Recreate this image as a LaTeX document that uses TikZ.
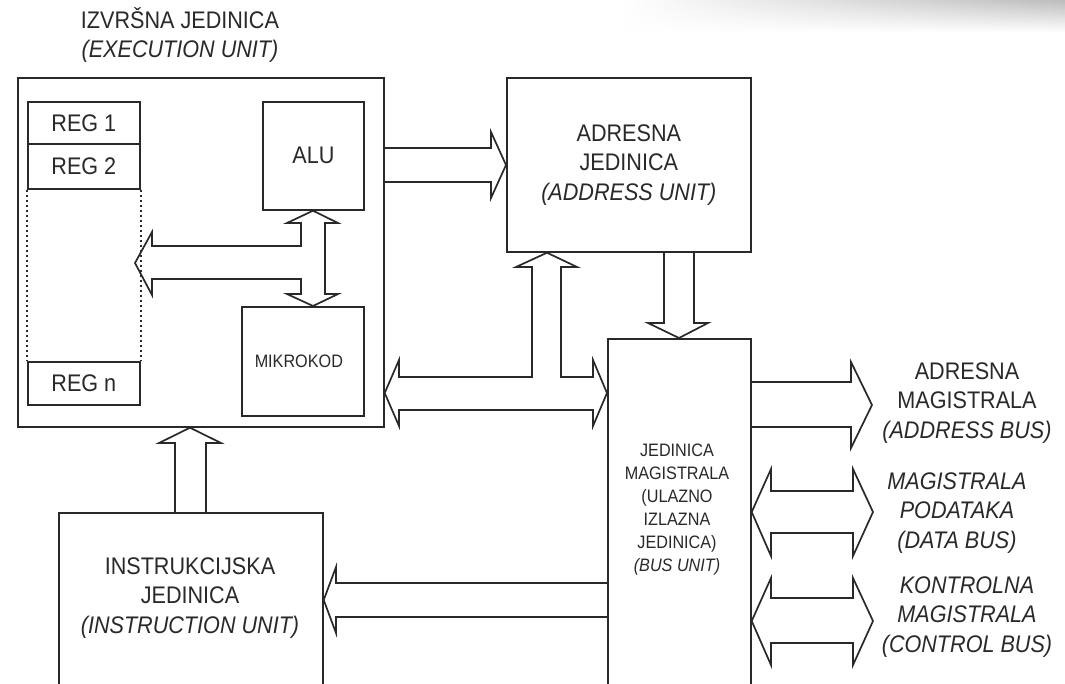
\documentclass[tikz,border=0pt]{standalone}
\usepackage{fontspec}
\setmainfont[FakeStretch=0.9]{Liberation Sans}
\usetikzlibrary{calc,fadings}
\definecolor{ink}{gray}{0.16}
\begin{document}
\begin{tikzpicture}[x=1pt,y=-1pt,
  unit/.style={draw=ink, line width=1.7pt, rectangle, inner sep=0pt, anchor=north west,
    font=\fontsize{24}{29.5}\selectfont, text=ink, align=center},
  blk/.style={draw=ink, line width=1.7pt, line join=miter},
  dots/.style={draw=ink, line width=1.8pt, dash pattern=on 1.8pt off 3.2pt},
  lab/.style={align=center, font=\fontsize{24}{29.5}\selectfont, text=ink, inner sep=0pt},
  ilab/.style={lab, font=\fontsize{24}{29.5}\selectfont\itshape},
  smalllab/.style={align=center, font=\fontsize{18}{23}\selectfont, text=ink, inner sep=0pt}
]
\useasboundingbox (0,0) rectangle (1065,683);
\fill[white] (0,0) rectangle (1065,683);
\clip (0,0) rectangle (1065,683);

% soft grey band along the top right edge
\shade[left color=white, right color=black!26, path fading=south] (620,0) rectangle (1065,32);

% execution unit and its parts
\node[unit, minimum width=366pt, minimum height=349pt] (exec) at (17,77) {};
\node[lab] (exectitle) at (180,35) {IZVRŠNA JEDINICA\\\textit{(EXECUTION UNIT)}};
\node[unit, minimum width=112pt, minimum height=42pt] (reg1) at (27,101) {REG 1};
\node[unit, minimum width=112pt, minimum height=45pt] (reg2) at (27,143) {REG 2};
\node[unit, minimum width=112pt, minimum height=43pt] (regn) at (27,361) {REG n};
\draw[dots] (reg2.south west) -- (regn.north west);
\draw[dots] (reg2.south east) -- (regn.north east);
\node[unit, minimum width=101pt, minimum height=108pt] (alu) at (262,101) {ALU};
\node[unit, minimum width=122pt, minimum height=109pt, font=\fontsize{18}{21}\selectfont] (mikro) at (241,306) {MIKROKOD\hspace*{8pt}};

% address unit
\node[unit, minimum width=244pt, minimum height=174pt] (addr) at (506,77)
  {ADRESNA\\JEDINICA\\\textit{(ADDRESS UNIT)}};

% bus unit
\node[unit, minimum width=143pt, minimum height=362pt] (bus) at (607,338) {};
\node[smalllab] (bustext) at (677,510)
  {JEDINICA\\MAGISTRALA\\(ULAZNO\\IZLAZNA\\JEDINICA)\\\textit{(BUS UNIT)}};

% instruction unit
\node[unit, minimum width=264pt, minimum height=188pt] (instr) at (58,512) {};
\node[lab] (instrtext) at (190,598) {INSTRUKCIJSKA\\JEDINICA\\\textit{(INSTRUCTION UNIT)}};

% external buses
\node[lab] (abus) at (967,403) {ADRESNA\\MAGISTRALA\\\textit{(ADDRESS BUS)}};
\node[ilab] (dbus) at (957,513) {MAGISTRALA\\PODATAKA\\(DATA BUS)};
\node[ilab] (cbus) at (967,617) {KONTROLNA\\MAGISTRALA\\(CONTROL BUS)};
\coordinate (regtip) at (135,263);
\coordinate (abustip) at (872,405);
\coordinate (dbustip) at (873,512);
\coordinate (cbustip) at (873,621);

% execution unit -> address unit
\draw[blk] (exec.east |- 0,148) -- (491,148) -- (491,132) -- (addr.west |- 0,165)
  -- (491,198) -- (491,182) -- (exec.east |- 0,182);

% ALU <-> MIKROKOD, branching to the registers
\draw[blk] (alu.south -| 313,0) -- (338,223) -- (325,223) -- (325,294) -- (338,294)
  -- (mikro.north -| 313,0) -- (287,294) -- (301,294) -- (301,279) -- (152,279)
  -- (152,295) -- (regtip) -- (152,232) -- (152,246) -- (301,246) -- (301,223)
  -- (287,223) -- cycle;

% execution unit <-> bus unit, branching up to the address unit
\draw[blk] (exec.east |- 0,393) -- (399,360) -- (399,377) -- (532,377) -- (532,267)
  -- (516,267) -- (addr.south -| 547,0) -- (577,267) -- (561,267) -- (561,377)
  -- (593,377) -- (593,360) -- (bus.west |- 0,393) -- (593,426) -- (593,410)
  -- (399,410) -- (399,426) -- cycle;

% address unit -> bus unit
\draw[blk] (addr.south -| 664,0) -- (664,323) -- (648,323) -- (bus.north -| 679,0)
  -- (708,323) -- (694,323) -- (addr.south -| 694,0);

% instruction unit -> execution unit
\draw[blk] (instr.north -| 175,0) -- (175,443) -- (159,443) -- (exec.south -| 190,0)
  -- (221,443) -- (206,443) -- (instr.north -| 206,0);

% bus unit -> instruction unit
\draw[blk] (bus.west |- 0,583) -- (336,583) -- (336,567) -- (instr.east |- 0,600)
  -- (336,633) -- (336,617) -- (bus.west |- 0,617);

% bus unit -> address bus
\draw[blk] (bus.east |- 0,382) -- (851,382) -- (851,362) -- (abustip) -- (851,448)
  -- (851,427) -- (bus.east |- 0,427);

% bus unit <-> data bus
\draw[blk] (bus.east |- 0,512) -- (771,469) -- (771,491) -- (853,491) -- (853,469)
  -- (dbustip) -- (853,556) -- (853,533) -- (771,533) -- (771,556) -- cycle;

% bus unit <-> control bus
\draw[blk] (bus.east |- 0,621) -- (771,578) -- (771,598) -- (853,598) -- (853,578)
  -- (cbustip) -- (853,665) -- (853,643) -- (771,643) -- (771,665) -- cycle;
\end{tikzpicture}
\end{document}
